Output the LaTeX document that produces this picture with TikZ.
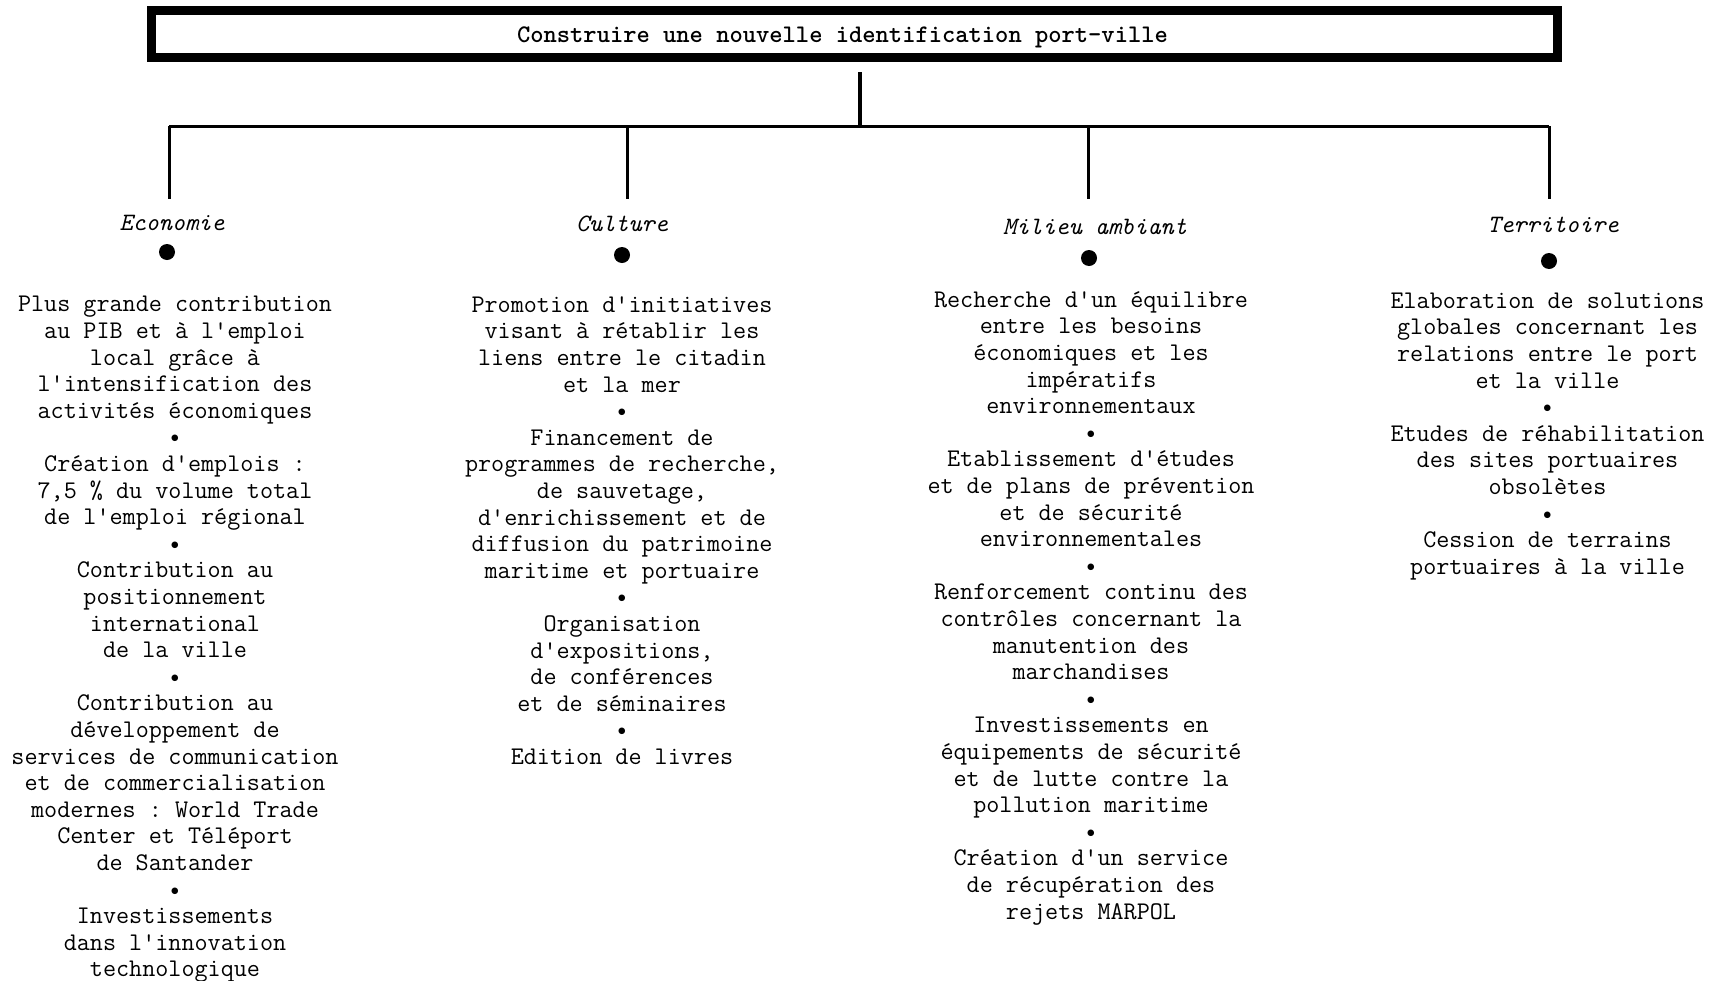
\documentclass[tikz,border=0pt]{standalone}
\usepackage{fontspec}
\begin{document}
\frenchspacing
\begin{tikzpicture}[x=1pt,y=-1pt]
\tikzset{
  titlebox/.style={draw, line width=9pt, minimum width=1406pt, minimum height=47pt, inner sep=0pt,
    font=\ttfamily\bfseries\fontsize{25.3}{26}\selectfont},
  headlbl/.style={anchor=base, inner sep=0pt, font=\ttfamily\itshape\fontsize{25}{26.6}\selectfont},
  bigdot/.style={circle, fill=black, minimum size=16pt, inner sep=0pt},
  coltext/.style={align=center, anchor=north, inner sep=0pt, font=\ttfamily\fontsize{25.4}{26.6}\selectfont},
  conn/.style={line width=3pt}
}
\useasboundingbox (0,0) rectangle (1715,980);
\fill[white] (0,0) rectangle (1715,980);

\node[titlebox] (t) at (854.5,34) {\hspace*{-24pt}\raisebox{-8.5pt}[0pt][0pt]{Construire une nouvelle identification port-ville}};

\coordinate (top) at (860,72);
\coordinate (hub) at (860,126);
\coordinate (b1) at (169,126);
\coordinate (b2) at (627,126);
\coordinate (b3) at (1088,126);
\coordinate (b4) at (1549,126);
\coordinate (d1) at (169,199);
\coordinate (d2) at (627,199);
\coordinate (d3) at (1088,199);
\coordinate (d4) at (1549,199);

\draw[conn, line width=4pt] (top) -- (hub);
\draw[conn] (b1) -- (b4);
\draw[conn] (b1) -- (d1);
\draw[conn] (b2) -- (d2);
\draw[conn] (b3) -- (d3);
\draw[conn] (b4) -- (d4);

\node[headlbl] (h1) at (172,230) {Economie};
\node[headlbl] (h2) at (622,231) {Culture};
\node[headlbl] (h3) at (1095,234) {Milieu ambiant};
\node[headlbl] (h4) at (1553,232) {Territoire};

\node[bigdot] (p1) at (167,252) {};
\node[bigdot] (p2) at (622,255) {};
\node[bigdot] (p3) at (1089,258) {};
\node[bigdot] (p4) at (1549,261) {};

\node[coltext] (c1) at (175,293) {\strut Plus grande contribution\\
au PIB et à l'emploi\\
local grâce à\\
l'intensification des\\
activités économiques\\
\textbullet\\
Création d'emplois :\\
7,5 \% du volume total\\
de l'emploi régional\\
\textbullet\\
Contribution au\\
positionnement\\
international\\
de la ville\\
\textbullet\\
Contribution au\\
développement de\\
services de communication\\
et de commercialisation\\
modernes : World Trade\\
Center et Téléport\\
de Santander\\
\textbullet\\
Investissements\\
dans l'innovation\\
technologique};

\node[coltext] (c2) at (622,293.5) {\strut Promotion d'initiatives\\
visant à rétablir les\\
liens entre le citadin\\
et la mer\\
\textbullet\\
Financement de\\
programmes de recherche,\\
de sauvetage,\\
d'enrichissement et de\\
diffusion du patrimoine\\
maritime et portuaire\\
\textbullet\\
Organisation\\
d'expositions,\\
de conférences\\
et de séminaires\\
\textbullet\\
Edition de livres};

\node[coltext] (c3) at (1091,288.5) {\strut Recherche d'un équilibre\\
entre les besoins\\
économiques et les\\
impératifs\\
environnementaux\\
\textbullet\\
Etablissement d'études\\
et de plans de prévention\\
et de sécurité\\
environnementales\\
\textbullet\\
Renforcement continu des\\
contrôles concernant la\\
manutention des\\
marchandises\\
\textbullet\\
Investissements en\\
équipements de sécurité\\
et de lutte contre la\\
pollution maritime\\
\textbullet\\
Création d'un service\\
de récupération des\\
rejets MARPOL};

\node[coltext] (c4) at (1547.5,289.5) {\strut Elaboration de solutions\\
globales concernant les\\
relations entre le port\\
et la ville\\
\textbullet\\
Etudes de réhabilitation\\
des sites portuaires\\
obsolètes\\
\textbullet\\
Cession de terrains\\
portuaires à la ville};
\end{tikzpicture}
\end{document}
